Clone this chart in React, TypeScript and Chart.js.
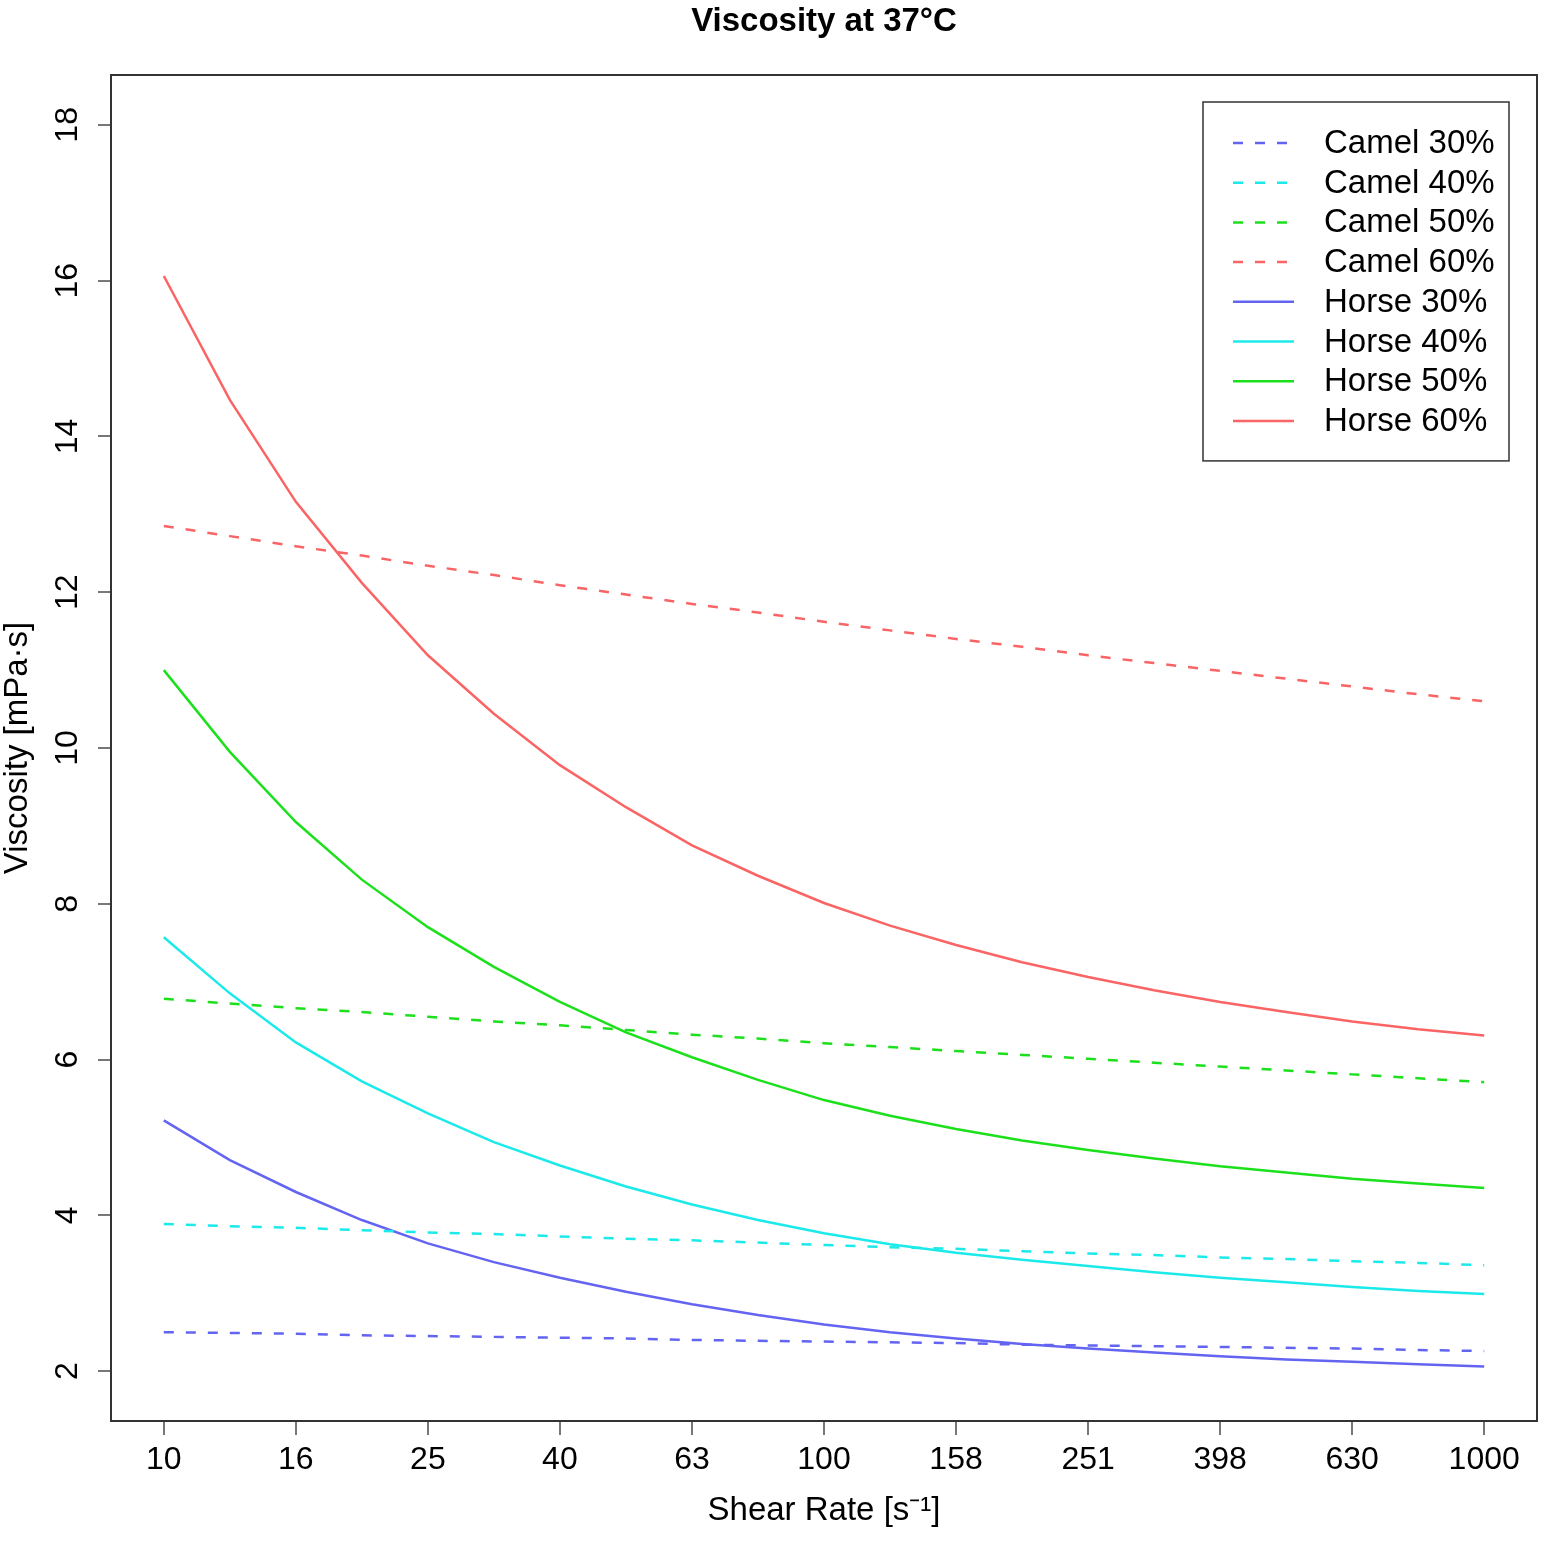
import React, { useEffect, useRef } from 'react';
import { Chart, registerables } from 'chart.js';

Chart.register(...registerables);

// Shear rates (s^-1), 10 points per decade from 10 to 1000
const shearRates = [10, 12.59, 15.85, 19.95, 25.12, 31.62, 39.81, 50.12, 63.1, 79.43, 100, 125.9, 158.5, 199.5, 251.2, 316.2, 398.1, 501.2, 631, 794.3, 1000];

// Viscosity values (mPa·s)
const camel30 = [2.50, 2.49, 2.48, 2.46, 2.45, 2.44, 2.43, 2.42, 2.40, 2.39, 2.38, 2.37, 2.36, 2.34, 2.33, 2.32, 2.31, 2.30, 2.29, 2.27, 2.26];
const camel40 = [3.89, 3.86, 3.84, 3.81, 3.78, 3.76, 3.73, 3.70, 3.68, 3.65, 3.62, 3.59, 3.57, 3.54, 3.51, 3.49, 3.46, 3.44, 3.41, 3.39, 3.36];
const camel50 = [6.78, 6.72, 6.66, 6.61, 6.55, 6.49, 6.44, 6.38, 6.32, 6.27, 6.21, 6.16, 6.11, 6.06, 6.01, 5.96, 5.91, 5.86, 5.81, 5.76, 5.71];
const camel60 = [12.85, 12.72, 12.59, 12.47, 12.34, 12.22, 12.09, 11.97, 11.85, 11.74, 11.62, 11.51, 11.40, 11.30, 11.19, 11.09, 10.99, 10.89, 10.79, 10.69, 10.60];
const horse30 = [5.22, 4.71, 4.30, 3.94, 3.64, 3.40, 3.20, 3.02, 2.86, 2.72, 2.60, 2.50, 2.42, 2.35, 2.29, 2.24, 2.19, 2.15, 2.12, 2.09, 2.06];
const horse40 = [7.57, 6.85, 6.22, 5.72, 5.31, 4.94, 4.64, 4.37, 4.14, 3.94, 3.77, 3.63, 3.52, 3.43, 3.35, 3.27, 3.20, 3.14, 3.08, 3.03, 2.99];
const horse50 = [11.00, 9.95, 9.05, 8.31, 7.70, 7.19, 6.74, 6.35, 6.03, 5.74, 5.48, 5.28, 5.11, 4.96, 4.84, 4.73, 4.63, 4.55, 4.47, 4.41, 4.35];
const horse60 = [16.06, 14.47, 13.16, 12.12, 11.19, 10.44, 9.78, 9.24, 8.75, 8.36, 8.01, 7.72, 7.47, 7.25, 7.06, 6.89, 6.74, 6.61, 6.49, 6.39, 6.31];

const seriesLabels = ['Camel 30%', 'Camel 40%', 'Camel 50%', 'Camel 60%', 'Horse 30%', 'Horse 40%', 'Horse 50%', 'Horse 60%'];
const seriesValues = [camel30, camel40, camel50, camel60, horse30, horse40, horse50, horse60];
const seriesColors = ['#6464F2', '#1CEAEA', '#1CE01C', '#FA6464', '#6464F2', '#1CEAEA', '#1CE01C', '#FA6464'];
const seriesDashed = [true, true, true, true, false, false, false, false];

const xTickValues = [10, 15.85, 25.12, 39.81, 63.1, 100, 158.5, 251.2, 398.1, 631, 1000];
const xTickLabels = ['10', '16', '25', '40', '63', '100', '158', '251', '398', '630', '1000'];
const yTickValues = [2, 4, 6, 8, 10, 12, 14, 16, 18];

const FONT = '"Liberation Sans", Arial, sans-serif';

const boxPlugin = {
  id: 'rBox',
  afterDatasetsDraw(chart: any) {
    const { ctx, chartArea } = chart;
    ctx.save();
    ctx.strokeStyle = '#333';
    ctx.lineWidth = 2;
    ctx.strokeRect(chartArea.left, chartArea.top, chartArea.right - chartArea.left, chartArea.bottom - chartArea.top);
    ctx.restore();
  },
};

const legendPlugin = {
  id: 'rLegend',
  afterDraw(chart: any) {
    const { ctx, chartArea } = chart;
    const w = 306;
    const rowH = 39.7;
    const right = chartArea.right - 28;
    const top = chartArea.top + 27;
    const left = right - w;
    const n = chart.data.datasets.length;
    const h = 41 + (n - 1) * rowH + 40;
    ctx.save();
    ctx.fillStyle = '#fff';
    ctx.fillRect(left, top, w, h);
    ctx.strokeStyle = '#333';
    ctx.lineWidth = 1.5;
    ctx.strokeRect(left, top, w, h);
    ctx.font = '33px ' + FONT;
    ctx.textBaseline = 'middle';
    ctx.textAlign = 'left';
    chart.data.datasets.forEach((ds: any, i: number) => {
      const y = top + 41 + i * rowH;
      ctx.strokeStyle = ds.borderColor;
      ctx.lineWidth = ds.borderWidth;
      ctx.setLineDash(ds.borderDash || []);
      ctx.beginPath();
      ctx.moveTo(left + 30, y);
      ctx.lineTo(left + 91, y);
      ctx.stroke();
      ctx.setLineDash([]);
      ctx.fillStyle = '#000';
      ctx.fillText(ds.label, left + 121, y + 1);
    });
    ctx.restore();
  },
};

export default function App() {
  const canvasRef = useRef<HTMLCanvasElement | null>(null);

  useEffect(() => {
    if (!canvasRef.current) return;
    Chart.defaults.font.family = FONT;
    const datasets = seriesLabels.map((label, i) => ({
      label,
      data: shearRates.map((x, j) => ({ x, y: seriesValues[i][j] })),
      borderColor: seriesColors[i],
      backgroundColor: seriesColors[i],
      borderWidth: 2.5,
      borderDash: seriesDashed[i] ? [10, 12] : [],
      pointRadius: 0,
      tension: 0,
      fill: false,
    }));

    const chart = new Chart(canvasRef.current, {
      type: 'line',
      data: { datasets },
      options: {
        responsive: false,
        animation: false,
        devicePixelRatio: 1,
        layout: { padding: { left: 0, right: 13, top: 0, bottom: 0 } },
        plugins: {
          legend: { display: false },
          tooltip: { enabled: false },
          title: {
            display: true,
            text: 'Viscosity at 37°C',
            fullSize: false,
            color: '#000',
            font: { family: FONT, size: 33, weight: 'bold', lineHeight: 1.2 },
            padding: { top: 2, bottom: 33.4 },
          },
        },
        scales: {
          x: {
            type: 'logarithmic',
            min: Math.pow(10, 0.92),
            max: Math.pow(10, 3.08),
            afterBuildTicks: (scale: any) => {
              scale.ticks = xTickValues.map((v) => ({ value: v }));
            },
            afterFit: (scale: any) => {
              scale.height = 120;
            },
            ticks: {
              autoSkip: false,
              maxRotation: 0,
              minRotation: 0,
              padding: 6,
              color: '#000',
              font: { family: FONT, size: 32 },
              callback: (_v: any, idx: number) => xTickLabels[idx],
            },
            grid: { drawOnChartArea: false, drawTicks: true, tickLength: 14, color: '#777', lineWidth: 2 },
            border: { display: false },
            title: {
              display: true,
              text: 'Shear Rate [s\u207B\u00B9]',
              color: '#000',
              font: { family: FONT, size: 33, lineHeight: 1 },
              padding: { top: 0, bottom: 14 },
            },
          },
          y: {
            type: 'linear',
            min: 1.36,
            max: 18.64,
            afterBuildTicks: (scale: any) => {
              scale.ticks = yTickValues.map((v) => ({ value: v }));
            },
            afterFit: (scale: any) => {
              scale.width = 111;
            },
            ticks: {
              autoSkip: false,
              minRotation: 90,
              maxRotation: 90,
              crossAlign: 'center',
              padding: 12,
              color: '#000',
              font: { family: FONT, size: 32 },
              callback: (v: any) => String(v),
            },
            grid: { drawOnChartArea: false, drawTicks: true, tickLength: 13, color: '#777', lineWidth: 2 },
            border: { display: false },
            title: {
              display: true,
              text: 'Viscosity [mPa·s]',
              color: '#000',
              font: { family: FONT, size: 33, lineHeight: 1 },
              padding: { top: 1, bottom: 0 },
            },
          },
        },
      } as any,
      plugins: [boxPlugin, legendPlugin],
    });

    return () => {
      chart.destroy();
    };
  }, []);

  return (
    <div style={{ position: 'absolute', left: 0, top: 0, width: 1550, height: 1541, background: '#fff' }}>
      <canvas ref={canvasRef} width={1550} height={1541} style={{ width: 1550, height: 1541, display: 'block' }} />
    </div>
  );
}
